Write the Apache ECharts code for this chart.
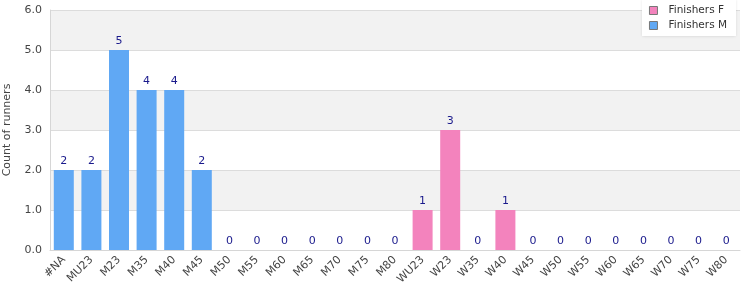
<!DOCTYPE html>
<html><head><meta charset="utf-8">
<script src="https://cdn.jsdelivr.net/npm/echarts@6/dist/echarts.min.js"></script>
<style>html,body{margin:0;padding:0;background:#fff}#c{width:750px;height:300px}</style>
</head><body><div id="c"></div>
<script>
var categories = ['#NA','MU23','M23','M35','M40','M45','M50','M55','M60','M65','M70','M75','M80','WU23','W23','W35','W40','W45','W50','W55','W60','W65','W70','W75','W80'];
var finishersM = [2,2,5,4,4,2,0,0,0,0,0,0,0,null,null,null,null,null,null,null,null,null,null,null,null];
var finishersF = [null,null,null,null,null,null,null,null,null,null,null,null,null,1,3,0,1,0,0,0,0,0,0,0,0];
var yTicks = {min:0, max:6, interval:1};

var chart = echarts.init(document.getElementById('c'), null, {renderer:'canvas'});
var lbl = {show:true, position:'top', color:'#1a1a8c', fontSize:11, fontFamily:'DejaVu Sans', distance:3};
chart.setOption({
  animation:false,
  textStyle:{fontFamily:'DejaVu Sans'},
  grid:{left:50, right:10, top:10, bottom:50, outerBoundsMode:'none', containLabel:false},
  legend:{
    orient:'vertical', right:14, top:0, itemWidth:8, itemHeight:8, itemGap:4,
    backgroundColor:'#fff', padding:[5,9,5,7],
    shadowColor:'rgba(0,0,0,0.15)', shadowBlur:3,
    textStyle:{fontSize:10.5, color:'#333', fontFamily:'DejaVu Sans', padding:[0,0,0,6], height:10},
    data:[{name:'Finishers F', icon:'rect', itemStyle:{borderColor:'#777',borderWidth:1}},
          {name:'Finishers M', icon:'rect', itemStyle:{borderColor:'#777',borderWidth:1}}]
  },
  xAxis:{
    type:'category', data:categories,
    axisLine:{lineStyle:{color:'#d6d6d6'}}, axisTick:{show:false},
    axisLabel:{rotate:45, color:'#444', fontSize:11, interval:0, margin:8}
  },
  yAxis:{
    type:'value', min:yTicks.min, max:yTicks.max, interval:yTicks.interval,
    name:'Count of runners', nameLocation:'middle', nameGap:37, nameRotate:90,
    nameTextStyle:{color:'#444', fontSize:11},
    axisLine:{show:true, lineStyle:{color:'#d6d6d6'}}, axisTick:{show:false},
    axisLabel:{color:'#444', fontSize:11, margin:8, formatter:function(v){return v.toFixed(1);}},
    splitLine:{lineStyle:{color:'#dcdcdc'}},
    splitArea:{show:true, areaStyle:{color:['#ffffff','#f2f2f2']}}
  },
  series:[
    {name:'Finishers F', type:'bar', stack:'a', data:finishersF, barWidth:20, itemStyle:{color:'#f383bd'}, label:lbl},
    {name:'Finishers M', type:'bar', stack:'a', data:finishersM, barWidth:20, itemStyle:{color:'#60a8f4'}, label:lbl}
  ]
});
</script></body></html>
